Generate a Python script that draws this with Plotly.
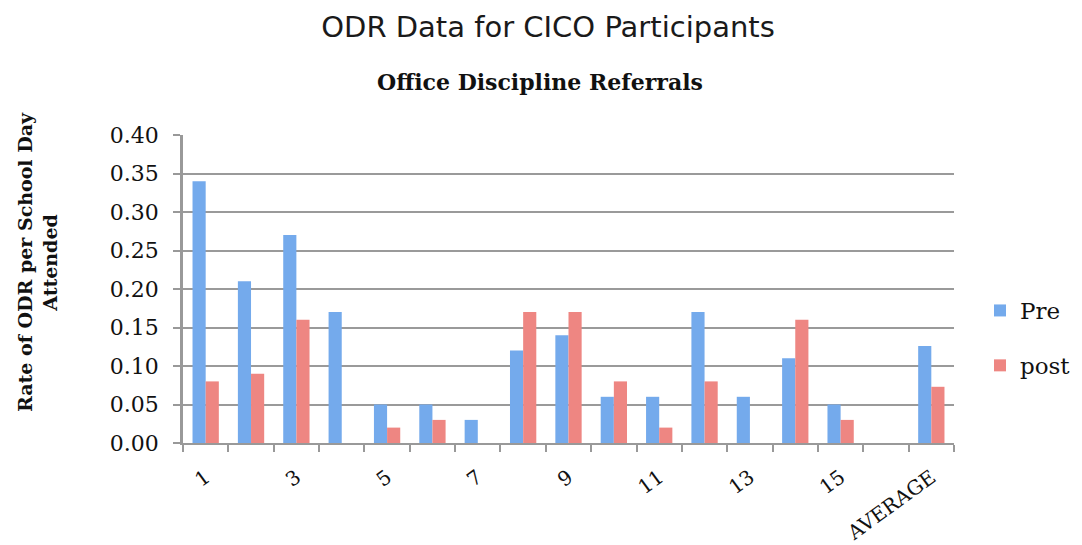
import plotly.graph_objects as go

categories = [str(i) for i in range(1, 17)] + ["AVERAGE"]
pre_values = [0.34, 0.21, 0.27, 0.17, 0.05, 0.05, 0.03, 0.12, 0.14, 0.06,
              0.06, 0.17, 0.06, 0.11, 0.05, 0.0, 0.126]
post_values = [0.08, 0.09, 0.16, 0.0, 0.02, 0.03, 0.0, 0.17, 0.17, 0.08,
               0.02, 0.08, 0.0, 0.16, 0.03, 0.0, 0.073]
x_tick_labels = ["1", "3", "5", "7", "9", "11", "13", "15", "AVERAGE"]
y_ticks = [0.0, 0.05, 0.10, 0.15, 0.20, 0.25, 0.30, 0.35, 0.40]

xpos = list(range(len(categories)))
serif = "DejaVu Serif, serif"

fig = go.Figure()
fig.add_trace(go.Bar(x=xpos, y=pre_values, name="Pre", legendgroup="a",
                     marker=dict(color="#74aaec", line=dict(width=0))))
fig.add_trace(go.Bar(x=xpos, y=post_values, name="post", legendgroup="b",
                     marker=dict(color="#ee8682", line=dict(width=0))))

W, H = 1074, 537
OFF = 8  # page body margin
fig.update_layout(
    width=W, height=H,
    paper_bgcolor="white", plot_bgcolor="white",
    margin=dict(l=175, r=128, t=127, b=102, autoexpand=False),
    barmode="group", bargap=0.42, bargroupgap=0,
    title=dict(text="ODR Data for CICO Participants", xref="container", yref="container",
               x=(548 - OFF) / W, xanchor="center",
               y=1 - (27 - OFF) / H, yanchor="middle",
               font=dict(family="DejaVu Sans, sans-serif", size=29, color="#1a1a1a")),
    showlegend=True,
    legend=dict(xref="container", x=(980 - OFF) / W, y=(443 - 338) / 308,
                xanchor="left", yanchor="middle",
                font=dict(family=serif, size=23, color="#111"),
                tracegroupgap=22, itemwidth=30, bgcolor="rgba(0,0,0,0)"),
    xaxis=dict(range=[-0.5, 16.5], tickmode="array",
               tickvals=list(range(0, 17, 2)), ticktext=x_tick_labels,
               ticks="", tickangle=-36, automargin=False, ticklabelstandoff=13,
               tickfont=dict(family=serif, size=20, color="#111"),
               showline=True, linecolor="#999", linewidth=2,
               showgrid=False, zeroline=False,
               minor=dict(tick0=-0.5, dtick=1, ticks="outside", ticklen=7,
                          tickwidth=2, tickcolor="#999", showgrid=False)),
    yaxis=dict(range=[0, 0.4], tickmode="array", tickvals=y_ticks,
               ticktext=["%.2f" % v for v in y_ticks], automargin=False,
               ticklabelstandoff=10,
               ticks="outside", ticklen=7, tickwidth=2, tickcolor="#999",
               tickfont=dict(family=serif, size=22, color="#111"),
               showline=True, linecolor="#999", linewidth=2.5,
               showgrid=True, gridcolor="#9a9a9a", gridwidth=2,
               zeroline=False),
)

fig.add_annotation(text="<b>Office Discipline Referrals</b>", xref="paper", yref="paper",
                   x=(540 - 183) / 771, y=(443 - 82) / 308, xanchor="center", yanchor="middle",
                   showarrow=False, font=dict(family=serif, size=22, color="#111"))
fig.add_annotation(text="<b>Rate of ODR per School Day<br>Attended</b>", xref="paper", yref="paper",
                   x=(37 - 183) / 771, y=(443 - 262) / 308, xanchor="center", yanchor="middle",
                   textangle=-90, showarrow=False,
                   font=dict(family=serif, size=19, color="#111"))

fig.write_html("out.html")
